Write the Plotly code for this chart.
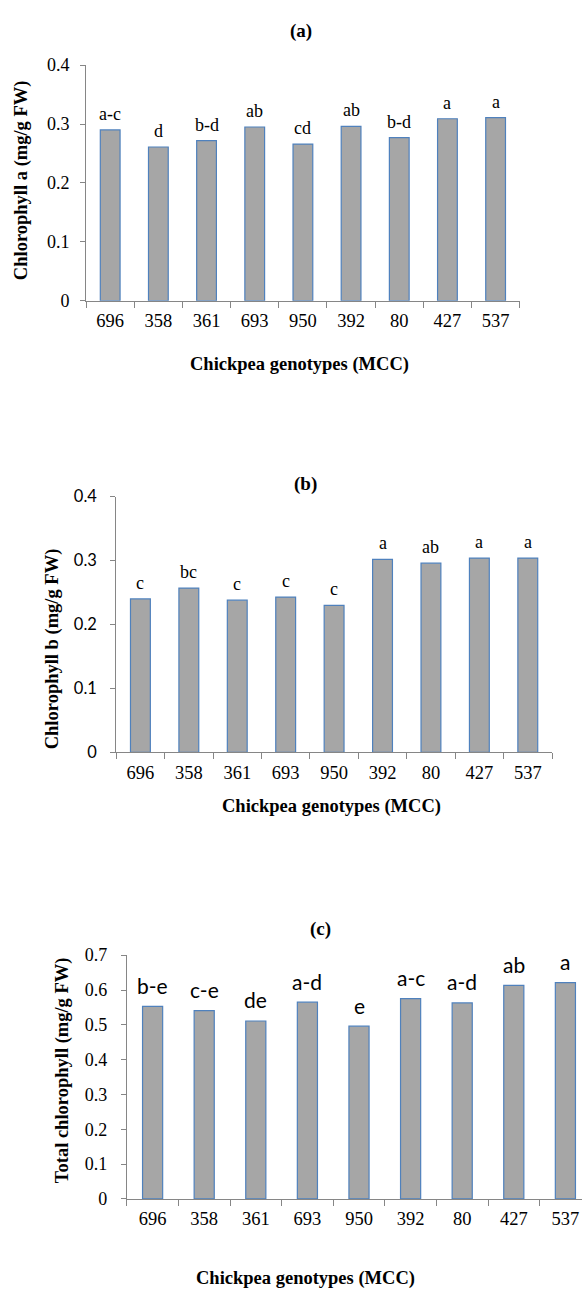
import plotly.graph_objects as go

genotypes = ["696", "358", "361", "693", "950", "392", "80", "427", "537"]

chl_a = [0.290, 0.261, 0.272, 0.295, 0.266, 0.296, 0.277, 0.309, 0.311]
chl_a_letters = ["a-c", "d", "b-d", "ab", "cd", "ab", "b-d", "a", "a"]

chl_b = [0.240, 0.257, 0.238, 0.243, 0.230, 0.302, 0.296, 0.304, 0.304]
chl_b_letters = ["c", "bc", "c", "c", "c", "a", "ab", "a", "a"]

chl_total = [0.553, 0.541, 0.511, 0.565, 0.496, 0.575, 0.563, 0.613, 0.621]
chl_total_letters = ["b-e", "c-e", "de", "a-d", "e", "a-c", "a-d", "ab", "a"]

W, H = 582, 1295
SERIF = "Liberation Serif, Times New Roman, serif"
SANS = "Lato, Carlito, Calibri, sans-serif"
AXIS_COLOR = "#868686"
BAR_FILL = "#A6A6A6"
BAR_EDGE = "#4F81BD"


def px_x(p):
    return p / W


def px_y(p):
    return 1 - p / H


fig = go.Figure()

panels = [
    dict(vals=chl_a, letters=chl_a_letters, xa="x", ya="y", width=0.41,
         xdom=[px_x(86.1), px_x(519.7)], ydom=[px_y(295.3), px_y(56.0)],
         yrange=[0, 0.4], xrange=[-0.5, 8.5], tickfont=SERIF, letterfont=SERIF,
         lettersize=18, lettershift=16, ystand=7),
    dict(vals=chl_b, letters=chl_b_letters, xa="x2", ya="y2", width=0.41,
         xdom=[px_x(116.2), px_x(552.0)], ydom=[px_y(754.0), px_y(494.3)],
         yrange=[0, 0.4], xrange=[-0.5, 8.5], tickfont=SANS, letterfont=SERIF,
         lettersize=18, lettershift=16, ystand=10),
    dict(vals=chl_total, letters=chl_total_letters, xa="x3", ya="y3", width=0.39,
         xdom=[px_x(126.8), 1.0], ydom=[px_y(1207.6), px_y(960.0)],
         yrange=[0, 0.7], xrange=[-0.5, -0.5 + (582 - 126.8) / 51.6], tickfont=SERIF,
         letterfont=SANS, lettersize=21, lettershift=21, ystand=10),
]

annotations = []
for i, p in enumerate(panels):
    fig.add_trace(go.Bar(
        x=genotypes, y=p["vals"], xaxis=p["xa"], yaxis=p["ya"], width=p["width"],
        marker=dict(color=BAR_FILL, line=dict(color=BAR_EDGE, width=1.2)),
        hoverinfo="skip", showlegend=False,
    ))
    suffix = "" if i == 0 else str(i + 1)
    fig.layout["xaxis" + suffix] = dict(
        domain=p["xdom"], anchor=p["ya"], type="category", range=p["xrange"],
        categoryorder="array", categoryarray=genotypes,
        showline=True, linecolor=AXIS_COLOR, linewidth=1,
        ticks="outside", tickson="boundaries", ticklen=6, tickcolor=AXIS_COLOR,
        tickfont=dict(family=SERIF, size=18.5, color="black"),
        ticklabelstandoff=3, showgrid=False, zeroline=False, fixedrange=True,
    )
    fig.layout["yaxis" + suffix] = dict(
        domain=p["ydom"], anchor=p["xa"], range=p["yrange"], dtick=0.1, tick0=0,
        showline=True, linecolor=AXIS_COLOR, linewidth=1,
        ticks="outside", ticklen=5, tickcolor=AXIS_COLOR,
        tickfont=dict(family=p["tickfont"], size=18 if p["tickfont"] == SERIF else 16.5,
                      color="black"),
        ticklabelstandoff=p["ystand"], showgrid=False, zeroline=False, fixedrange=True,
    )
    for idx, (v, t) in enumerate(zip(p["vals"], p["letters"])):
        annotations.append(dict(
            x=idx, y=v, xref=p["xa"], yref=p["ya"], text=t, showarrow=False,
            xanchor="center", yanchor="middle", yshift=p["lettershift"],
            font=dict(family=p["letterfont"], size=p["lettersize"], color="black"),
        ))

titles = [("(a)", 301.0, 21.7), ("(b)", 305.5, 481.7), ("(c)", 320.3, 933.3)]
for t, x, y in titles:
    annotations.append(dict(
        x=px_x(x), y=px_y(y), xref="paper", yref="paper", text=t, showarrow=False,
        xanchor="center", yanchor="middle",
        font=dict(family=SERIF, size=19, color="black", weight="bold"),
    ))

xtitles = [(299.0, 360.0), (331.3, 809.3), (305.7, 1288.3)]
for x, y in xtitles:
    annotations.append(dict(
        x=px_x(x), y=px_y(y), xref="paper", yref="paper",
        text="Chickpea genotypes (MCC)", showarrow=False,
        xanchor="center", yanchor="middle",
        font=dict(family=SERIF, size=18.5, color="black", weight="bold"),
    ))

ytitles = [("Chlorophyll a (mg/g FW)", 22.3, 172.5),
           ("Chlorophyll b (mg/g FW)", 53.3, 649.0),
           ("Total chlorophyll (mg/g FW)", 63.3, 1076.5)]
for t, x, y in ytitles:
    annotations.append(dict(
        x=px_x(x), y=px_y(y), xref="paper", yref="paper", text=t, showarrow=False,
        textangle=-90, xanchor="center", yanchor="middle",
        font=dict(family=SERIF, size=18.5, color="black", weight="bold"),
    ))

fig.update_layout(
    width=W, height=H, margin=dict(l=0, r=0, t=0, b=0, pad=0),
    paper_bgcolor="white", plot_bgcolor="white", showlegend=False,
    annotations=annotations,
)

fig.write_html("out.html", config={"displayModeBar": False})
